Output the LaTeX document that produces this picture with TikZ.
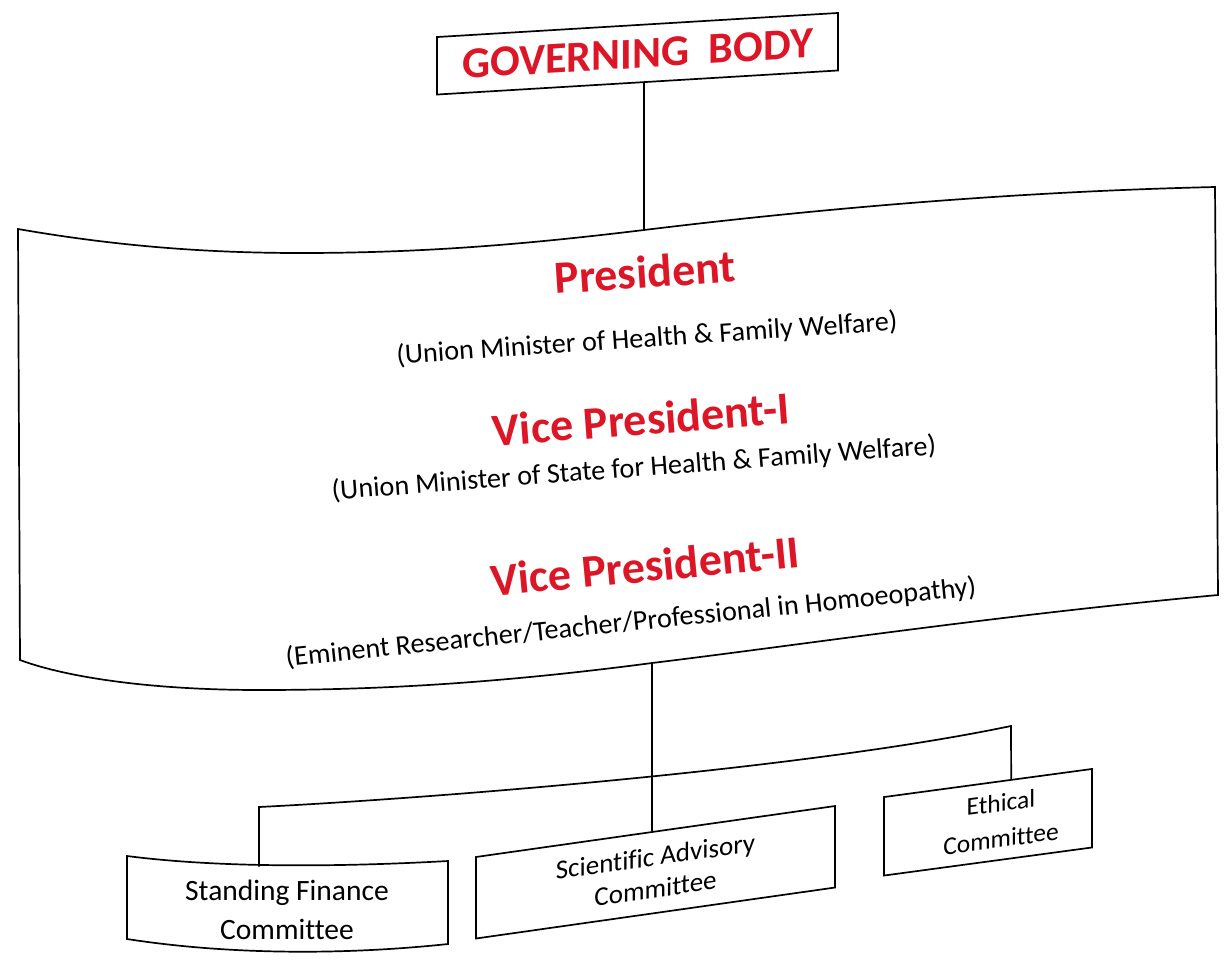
\documentclass[tikz,border=0pt]{standalone}
\usepackage{fontspec}
\setmainfont{Carlito}[Ligatures=NoCommon]
\usetikzlibrary{calc}
\definecolor{hred}{RGB}{220,22,38}
\begin{document}
\begin{tikzpicture}[x=1pt,y=-1pt, line width=1.7pt,
  slbox/.style={draw, inner sep=0pt, align=center},
  redt/.style={inner sep=0pt, text=hred, font=\bfseries\fontsize{46}{50}\selectfont},
  subt/.style={inner sep=0pt, font=\fontsize{28.2}{34}\selectfont}]
\useasboundingbox (0,0) rectangle (1232,962);

% Governing body
\node[slbox, yslant=0.06, minimum width=401pt, minimum height=57.5pt,
      text=hred, font=\bfseries\fontsize{44}{48}\selectfont] (gb) at (637.5,53.75) {GOVERNING\hspace{0.45em}BODY};

% big wavy panel
\draw (18,229) .. controls (110,245) and (200,253) .. (300,253)
      .. controls (420,253) and (520,245) .. (644,230)
      .. controls (800,211) and (1000,192) .. (1215,187)
      -- (1218,595)
      .. controls (1000,615) and (800,645) .. (652,663)
      .. controls (500,683) and (380,690) .. (260,690)
      .. controls (140,690) and (60,675) .. (20,660)
      -- cycle;
\coordinate (topjoin) at (644,230);
\coordinate (botjoin) at (652,663);

\node[redt, rotate=3.8] (pres) at (645,272) {President};
\node[subt, rotate=3.9] (presd) at (647,339) {(Union Minister of Health \& Family Welfare)};
\node[redt, rotate=4.3] (vp1) at (641,419) {Vice President-I};
\node[subt, rotate=4.3] (vp1d) at (634,469) {(Union Minister of State for Health \& Family Welfare)};
\node[redt, rotate=5.4] (vp2) at (645,566) {Vice President-II};
\node[subt, rotate=5.9] (vp2d) at (631,623) {(Eminent Researcher/Teacher/Professional in Homoeopathy)};

% committees
\node[slbox, yslant=0.142, minimum width=359pt, minimum height=81.5pt,
      font=\fontsize{27}{32}\selectfont] (sa) at (655.5,872.25) {Scientific Advisory\\Committee};
\node[slbox, yslant=0.135, minimum width=208pt, minimum height=78.5pt,
      font=\fontsize{25.5}{36}\selectfont] (eth) at (988,822.25) {\hspace*{26pt}Ethical\\\hspace*{26pt}Committee};
\node[inner sep=0pt, align=center, font=\fontsize{29.5}{39}\selectfont] (sf) at (287,910) {Standing Finance\\Committee};
\draw (127,856) .. controls (220,868) and (340,867) .. (448,861) -- (448,944)
      .. controls (345,955) and (230,955) .. (127,939) -- cycle;
\coordinate (sftop) at (259,866.5);

% connectors
\draw (gb.south -| topjoin) -- (topjoin);
\draw (botjoin) -- ($(sa.north west)!0.49!(sa.north east)$);
\draw (sftop) -- (259,807) .. controls (420,799) and (800,770) .. (1011,726)
      -- ($(eth.north west)!0.6106!(eth.north east)$);
\end{tikzpicture}
\end{document}
